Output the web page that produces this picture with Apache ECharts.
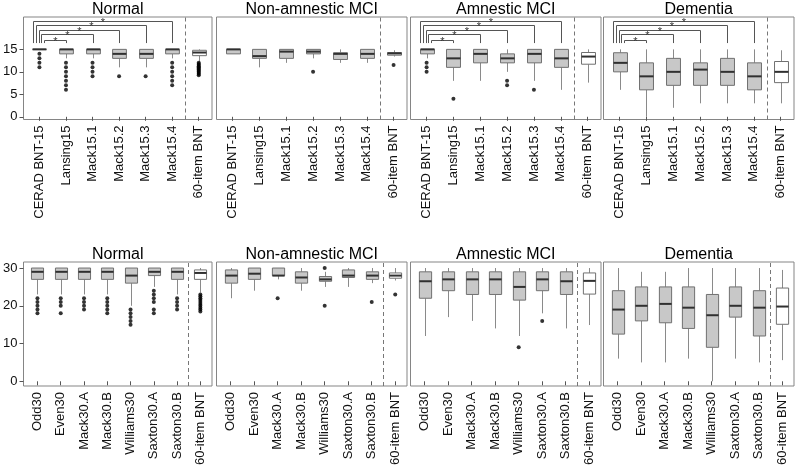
<!DOCTYPE html>
<html><head><meta charset="utf-8">
<script src="https://cdn.jsdelivr.net/npm/echarts@6/dist/echarts.min.js"></script>
<style>html,body{margin:0;padding:0;background:#fff}#c{width:800px;height:471px}</style>
</head><body><div id="c"></div>
<script>
// ---------- DATA ----------
const groups = ['Normal', 'Non-amnestic MCI', 'Amnestic MCI', 'Dementia'];
const cats15 = ['CERAD BNT-15', 'Lansing15', 'Mack15.1', 'Mack15.2', 'Mack15.3', 'Mack15.4', '60-item BNT'];
const cats30 = ['Odd30', 'Even30', 'Mack30.A', 'Mack30.B', 'Williams30', 'Saxton30.A', 'Saxton30.B', '60-item BNT'];

// box stats: [min whisker, Q1, median, Q3, max whisker]
const box15Normal = [[15,15,15,15,15],[13,14,15,15,15],[13,14,15,15,15],[11,13,14,15,15],[11,13,14,15,15],[13,14,15,15,15],[12.25,13.6,14.3,14.8,15]];
const box15NonAmn = [[14,14,15,15,15],[11,13,13.5,15,15],[12,13,14.5,15,15],[13,14,14.5,15,15],[12,12.75,14,14.25,15],[12,13,14,15,15],[13.4,13.7,14.1,14.3,14.8]];
const box15Amn    = [[13,14,15,15,15],[8,11,13,15,15],[8,12,14,15,15],[10,12,13,14,15],[8,12,14,15,15],[6,11,13,15,15],[7.6,11.7,13.4,14.3,15]];
const box15Dem    = [[6,10,12,14.25,15],[0,6,9,12,15],[2,7,10,13,15],[3,7,10.5,12,15],[3,7,10,13,15],[3,6,9,12,15],[3,7.6,10,12.3,14.8]];

const out15Normal = [[14,13,12,11],[12,11,10,9,8,7,6],[12,11,10,9],[9],[9],[12,11,10,9,8,7],[12,11.75,11.5,11.25,11,10.75,10.5,10.25,10,9.75,9.5,9.25]];
const out15NonAmn = [[],[],[],[10],[],[],[11.5]];
const out15Amn    = [[12,11,10],[4],[],[8,7],[6],[],[]];
const out15Dem    = [[],[],[],[],[],[],[]];

const box30Normal = [[23,27,29,30,30],[23,27,29,30,30],[23,27,29,30,30],[23,27,29,30,30],[20,26,28,30,30],[25,28,29,30,30],[23,27,29,30,30],[23.5,27,28.7,29.5,30]];
const box30NonAmn = [[22,26,28,29.5,30],[24,27,28.5,30,30],[27,28,28,30,30],[24,26,27.5,29,30],[25,26.5,27,27.75,29],[25,27.5,28,29.5,30],[26,27,28,29,30],[26.7,27.3,28,28.7,30]];
const box30Amn    = [[12,22,26.5,29,30],[17,24,27,29,30],[16,23,27,29,30],[14,23,27,29,30],[12,21.5,25,29,30],[18,24,27,29,30],[14,23,26.5,29,30],[14.9,23.1,26.6,28.7,30]];
const box30Dem    = [[6,12.5,19,24,30],[5,16,20,25,29],[5,15.5,20.5,25,29],[6,14,19.5,25,30],[0,9,17.5,23,30],[6,17,20,25,30],[5,12,19.5,24,30],[5.6,15.1,19.8,24.7,29.5]];

const out30Normal = [[22,21,20,19,18],[22,21,20,18],[22,21,20,19],[22,21,20,19,18],[19,18,17,16,15],[24,23,22,21,19,18],[22,21,20,19],[23,22.5,22,21.5,21,20.5,20,19.5,19,18.5]];
const out30NonAmn = [[],[],[22],[],[30,20],[],[21],[23]];
const out30Amn    = [[],[],[],[],[9],[16],[],[]];
const out30Dem    = [[],[],[],[],[],[],[],[]];

// significance brackets (CERAD BNT-15 vs each short form), panels with brackets
const sigTargets = [2, 3, 4, 5, 6];
const sigLevels  = [17, 18.5, 19.4, 20.4, 21.3];
const sigPanels  = ['Normal', 'Amnestic MCI', 'Dementia'];
const sigFoot = 16.4;

const ticks15 = [0, 5, 10, 15];
const ticks30 = [0, 10, 20, 30];

// ---------- LAYOUT / STYLE ----------
const FONT = 'Liberation Sans, Arial, sans-serif';
const lefts = [23.5, 216.5, 410.5, 603.5];
const widths = [188.5, 190.5, 190.5, 190.5];
const rows = [
  {top: 17, height: 102.5, ymin: -0.6, ymax: 22.2, cats: cats15, ticks: ticks15, titleY: 10,
   boxes: [box15Normal, box15NonAmn, box15Amn, box15Dem], outs: [out15Normal, out15NonAmn, out15Amn, out15Dem]},
  {top: 262, height: 124, ymin: -1.25, ymax: 31.6, cats: cats30, ticks: ticks30, titleY: 254.5,
   boxes: [box30Normal, box30NonAmn, box30Amn, box30Dem], outs: [out30Normal, out30NonAmn, out30Amn, out30Dem]}
];
const BOX_W = 0.52;

function renderBox(params, api) {
  const x = api.value(0);
  const pMin = api.coord([x, api.value(1)]);
  const pQ1 = api.coord([x, api.value(2)]);
  const pMed = api.coord([x, api.value(3)]);
  const pQ3 = api.coord([x, api.value(4)]);
  const pMax = api.coord([x, api.value(5)]);
  const w = api.size([BOX_W, 0])[0];
  const cx = Math.round(pMin[0]) + 0.5;
  const x0 = cx - w / 2, x1 = cx + w / 2;
  const ref = api.value(6) === 1;
  return {type: 'group', children: [
    {type: 'line', shape: {x1: cx, y1: pQ1[1], x2: cx, y2: pMin[1]}, style: {stroke: '#8a8a8a', lineWidth: 1}},
    {type: 'line', shape: {x1: cx, y1: pQ3[1], x2: cx, y2: pMax[1]}, style: {stroke: '#8a8a8a', lineWidth: 1}},
    {type: 'rect', shape: {x: x0, y: pQ3[1], width: w, height: pQ1[1] - pQ3[1]},
     style: {fill: ref ? '#ffffff' : '#c8c8c8', stroke: '#707070', lineWidth: 1}},
    {type: 'line', shape: {x1: x0, y1: pMed[1], x2: x1, y2: pMed[1]}, style: {stroke: '#303030', lineWidth: 2}}
  ]};
}

function renderBracket(params, api) {
  const t = api.value(0), lev = api.value(1);
  const k = t - 2;
  const pL = api.coord([1, lev]);
  const pR = api.coord([t, lev]);
  const foot = api.coord([t, sigFoot])[1];
  const xl = Math.round(pL[0] + 4.5 - 2.7 * k) + 0.5;
  const xr = Math.round(pR[0]) + 0.5;
  const y = Math.round(pL[1]) + 0.5;
  return {type: 'group', children: [
    {type: 'polyline', shape: {points: [[xl, foot], [xl, y], [xr, y], [xr, foot]]},
     style: {stroke: '#555', lineWidth: 1, fill: null}},
    {type: 'text', style: {text: '*', x: (xl + xr) / 2, y: y + 1.5, align: 'center', verticalAlign: 'middle',
     fontSize: 11, fontFamily: FONT, fill: '#333'}}
  ]};
}

const grid = [], xAxis = [], yAxis = [], series = [], graphic = [];
rows.forEach((row, r) => {
  groups.forEach((g, c) => {
    const idx = r * 4 + c;
    const cats = row.cats;
    const n = cats.length;
    grid.push({left: lefts[c], top: row.top, width: widths[c], height: row.height,
      show: true, borderColor: '#858585', borderWidth: 1, backgroundColor: 'transparent'});
    const positions = cats.map((_, i) => i + 1);
    xAxis.push({type: 'value', gridIndex: idx, min: 0.4, max: n + 0.5,
      axisLine: {show: false}, splitLine: {show: false},
      axisTick: {show: true, customValues: positions, length: 4, lineStyle: {color: '#555'}},
      axisLabel: {show: true, customValues: positions, rotate: 90, margin: 6, fontSize: 13,
        fontFamily: FONT, color: '#111', formatter: v => cats[Math.round(v) - 1]}});
    const first = c === 0;
    yAxis.push({type: 'value', gridIndex: idx, min: row.ymin, max: row.ymax,
      axisLine: {show: false}, splitLine: {show: false},
      axisTick: {show: first, customValues: row.ticks, length: 4, lineStyle: {color: '#555'}},
      axisLabel: {show: first, customValues: row.ticks, margin: 6, fontSize: 13, fontFamily: FONT, color: '#111'}});
    const stats = row.boxes[c];
    series.push({type: 'custom', xAxisIndex: idx, yAxisIndex: idx, renderItem: renderBox,
      encode: {x: 0, y: [1, 2, 3, 4, 5]}, silent: true,
      data: stats.map((s, i) => [i + 1, s[0], s[1], s[2], s[3], s[4], cats[i] === '60-item BNT' ? 1 : 0]),
      markLine: {silent: true, symbol: ['none', 'none'], label: {show: false}, animation: false,
        lineStyle: {type: [4, 3], color: '#777', width: 1}, data: [{xAxis: n - 0.5}]}});
    const outs = [];
    row.outs[c].forEach((arr, i) => arr.forEach(v => outs.push([i + 1, v])));
    series.push({type: 'scatter', xAxisIndex: idx, yAxisIndex: idx, symbol: 'circle', symbolSize: 4,
      itemStyle: {color: '#000'}, silent: true, data: outs});
    if (r === 0 && sigPanels.includes(g)) {
      series.push({type: 'custom', xAxisIndex: idx, yAxisIndex: idx, renderItem: renderBracket, silent: true,
        encode: {x: 0, y: 1}, data: sigTargets.map((t, k) => [t, sigLevels[k]])});
    }
    graphic.push({type: 'text', x: lefts[c] + widths[c] / 2, y: row.titleY,
      style: {text: g, align: 'center', verticalAlign: 'middle', fontSize: 16, fontFamily: FONT, fill: '#000'}});
  });
});

const chart = echarts.init(document.getElementById('c'), null, {renderer: 'canvas'});
chart.setOption({animation: false, backgroundColor: '#fff', grid, xAxis, yAxis, series, graphic});
</script></body></html>
